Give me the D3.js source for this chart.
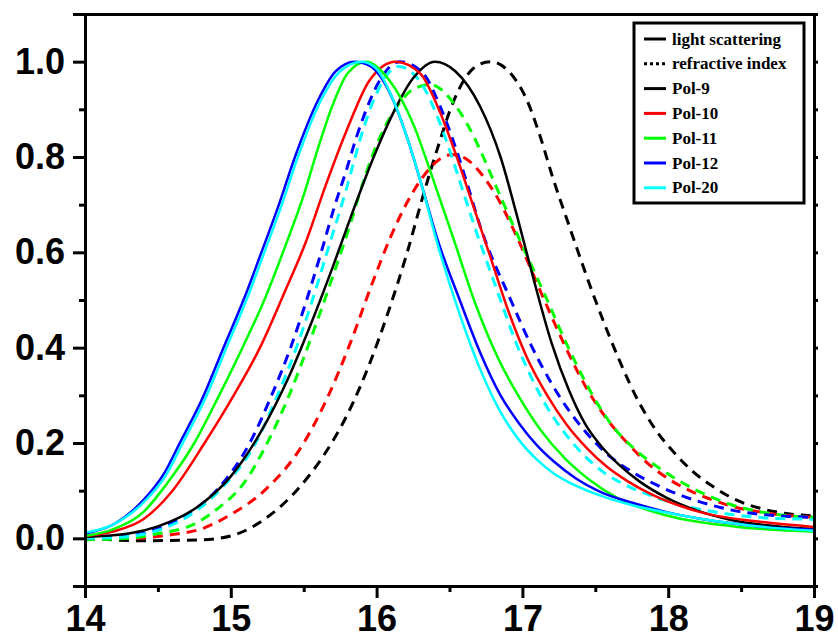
<!DOCTYPE html>
<html>
<head>
<meta charset="utf-8">
<script src="https://cdn.jsdelivr.net/npm/d3@7"></script>
<style>
  body { margin: 0; background: #fff; }
  svg { display: block; }
</style>
</head>
<body>
<svg id="chart"></svg>
<script>
// elution volume vs normalised detector signal
const xTicks = [14, 15, 16, 17, 18, 19];
const yTicks = [0.0, 0.2, 0.4, 0.6, 0.8, 1.0];

const samples = ['Pol-9', 'Pol-10', 'Pol-11', 'Pol-12', 'Pol-20'];
const colors = ['#000000', '#ff0000', '#00ff00', '#0000ff', '#00ffff'];

// light scattering (solid)
const ls9 = [[14.0,0.003],[14.3,0.01],[14.5,0.025],[14.79,0.07],[15.0,0.13],[15.2,0.22],[15.4,0.34],[15.55,0.45],[15.7,0.57],[15.83,0.68],[15.98,0.8],[16.11,0.89],[16.25,0.965],[16.4,1.0],[16.54,0.98],[16.71,0.906],[16.85,0.8],[16.96,0.68],[17.08,0.54],[17.2,0.41],[17.32,0.31],[17.43,0.24],[17.55,0.19],[17.66,0.155],[17.8,0.12],[17.99,0.085],[18.22,0.056],[18.44,0.038],[18.79,0.024],[19.0,0.02]];
const ls10 = [[14.0,0.005],[14.2,0.015],[14.4,0.04],[14.6,0.1],[14.82,0.2],[15.02,0.3],[15.2,0.4],[15.36,0.51],[15.52,0.626],[15.65,0.74],[15.8,0.86],[15.95,0.96],[16.13,1.0],[16.3,0.975],[16.42,0.905],[16.55,0.8],[16.66,0.7],[16.77,0.6],[16.9,0.48],[17.03,0.38],[17.17,0.3],[17.3,0.24],[17.44,0.19],[17.58,0.15],[17.72,0.12],[17.9,0.09],[18.22,0.055],[18.68,0.033],[19.0,0.024]];
const ls11 = [[14.0,0.005],[14.2,0.02],[14.4,0.055],[14.55,0.11],[14.75,0.2],[14.92,0.3],[15.08,0.4],[15.23,0.5],[15.37,0.61],[15.5,0.72],[15.6,0.82],[15.7,0.91],[15.8,0.975],[15.93,1.0],[16.09,0.96],[16.25,0.87],[16.38,0.76],[16.53,0.626],[16.68,0.49],[16.83,0.38],[16.98,0.295],[17.13,0.225],[17.3,0.165],[17.45,0.125],[17.65,0.085],[17.99,0.048],[18.45,0.025],[19.0,0.014]];
const ls12 = [[14.0,0.01],[14.2,0.03],[14.4,0.08],[14.55,0.14],[14.65,0.2],[14.8,0.29],[14.95,0.4],[15.1,0.51],[15.21,0.6],[15.33,0.7],[15.44,0.8],[15.6,0.92],[15.72,0.98],[15.85,1.0],[15.96,0.99],[16.09,0.935],[16.21,0.84],[16.31,0.74],[16.42,0.625],[16.57,0.5],[16.71,0.39],[16.85,0.3],[16.98,0.24],[17.1,0.195],[17.22,0.16],[17.37,0.125],[17.53,0.098],[17.76,0.074],[17.99,0.055],[18.22,0.041],[18.45,0.031],[18.68,0.023],[19.0,0.018]];
const ls20 = [[14.0,0.012],[14.2,0.03],[14.4,0.075],[14.55,0.13],[14.67,0.2],[14.82,0.29],[14.97,0.4],[15.12,0.51],[15.23,0.6],[15.35,0.7],[15.46,0.8],[15.62,0.92],[15.75,0.98],[15.9,1.0],[16.0,0.985],[16.1,0.93],[16.21,0.84],[16.31,0.74],[16.42,0.615],[16.57,0.47],[16.71,0.355],[16.85,0.265],[16.98,0.205],[17.1,0.165],[17.22,0.135],[17.37,0.11],[17.53,0.09],[17.76,0.069],[17.99,0.054],[18.22,0.041],[18.45,0.031],[18.68,0.023],[19.0,0.016]];

// refractive index (dashed)
const ri9 = [[14.0,0.0],[14.4,-0.005],[14.8,-0.003],[15.0,0.005],[15.23,0.04],[15.45,0.1],[15.65,0.18],[15.8,0.26],[15.95,0.365],[16.08,0.475],[16.21,0.6],[16.32,0.72],[16.43,0.83],[16.5,0.895],[16.57,0.945],[16.68,0.99],[16.78,1.0],[16.92,0.975],[17.03,0.92],[17.12,0.845],[17.21,0.755],[17.31,0.665],[17.5,0.5],[17.67,0.37],[17.8,0.285],[17.92,0.225],[18.04,0.18],[18.17,0.14],[18.31,0.108],[18.47,0.08],[18.63,0.063],[18.81,0.052],[19.0,0.047]];
const ri10 = [[14.0,0.0],[14.3,0.0],[14.6,0.008],[14.8,0.02],[15.0,0.05],[15.23,0.1],[15.5,0.2],[15.67,0.3],[15.82,0.41],[15.97,0.535],[16.1,0.635],[16.21,0.705],[16.31,0.755],[16.43,0.795],[16.52,0.805],[16.62,0.795],[16.73,0.76],[16.83,0.714],[16.94,0.647],[17.15,0.5],[17.29,0.405],[17.44,0.315],[17.58,0.25],[17.72,0.2],[17.85,0.16],[18.01,0.123],[18.17,0.097],[18.31,0.08],[18.44,0.067],[18.68,0.053],[19.0,0.044]];
const ri11 = [[14.0,-0.003],[14.3,0.0],[14.5,0.01],[14.75,0.03],[14.9,0.06],[15.1,0.12],[15.25,0.2],[15.4,0.3],[15.55,0.42],[15.7,0.55],[15.82,0.66],[15.9,0.74],[15.98,0.81],[16.06,0.865],[16.15,0.91],[16.25,0.942],[16.37,0.952],[16.45,0.94],[16.53,0.912],[16.62,0.87],[16.71,0.815],[16.8,0.752],[16.92,0.668],[17.17,0.5],[17.3,0.41],[17.42,0.335],[17.52,0.28],[17.62,0.235],[17.76,0.19],[17.94,0.147],[18.1,0.116],[18.27,0.09],[18.44,0.07],[18.68,0.053],[19.0,0.044]];
const ri12 = [[14.0,0.0],[14.3,0.005],[14.5,0.02],[14.7,0.05],[14.9,0.1],[15.13,0.2],[15.28,0.3],[15.41,0.4],[15.52,0.5],[15.62,0.6],[15.71,0.695],[15.79,0.77],[15.86,0.84],[15.93,0.9],[16.02,0.96],[16.16,1.0],[16.32,0.975],[16.43,0.91],[16.53,0.83],[16.62,0.745],[16.71,0.655],[16.92,0.5],[17.06,0.405],[17.19,0.33],[17.31,0.272],[17.44,0.221],[17.6,0.172],[17.76,0.138],[17.92,0.112],[18.08,0.091],[18.27,0.072],[18.49,0.056],[18.72,0.048],[19.0,0.044]];
const ri20 = [[14.0,0.0],[14.3,0.004],[14.5,0.017],[14.7,0.045],[14.92,0.1],[15.17,0.2],[15.32,0.3],[15.45,0.4],[15.56,0.5],[15.66,0.6],[15.79,0.73],[15.91,0.86],[16.01,0.94],[16.15,0.99],[16.32,0.948],[16.41,0.89],[16.5,0.815],[16.58,0.74],[16.66,0.665],[16.85,0.5],[16.95,0.415],[17.05,0.345],[17.15,0.285],[17.28,0.225],[17.42,0.175],[17.55,0.14],[17.72,0.11],[17.88,0.09],[18.06,0.072],[18.27,0.058],[18.49,0.048],[18.72,0.042],[19.0,0.04]];

const lsSeries = [ls9, ls10, ls11, ls12, ls20];
const riSeries = [ri9, ri10, ri11, ri12, ri20];

const W = 838, H = 639;
const margin = {top: 14, right: 24, bottom: 53, left: 85};

const svg = d3.select('#chart')
  .attr('width', W)
  .attr('height', H);

const x = d3.scaleLinear()
  .domain([14, 19])
  .range([margin.left, W - margin.right]);

const y = d3.scaleLinear()
  .domain([-0.1, 1.1])
  .range([H - margin.bottom, margin.top]);

const line = d3.line()
  .x(d => x(d[0]))
  .y(d => y(d[1]))
  .curve(d3.curveMonotoneX);

// curves
const plot = svg.append('g');

riSeries.forEach((s, i) => {
  plot.append('path')
    .datum(s)
    .attr('d', line)
    .attr('fill', 'none')
    .attr('stroke', colors[i])
    .attr('stroke-width', 3)
    .attr('stroke-dasharray', '10,7');
});

lsSeries.forEach((s, i) => {
  plot.append('path')
    .datum(s)
    .attr('d', line)
    .attr('fill', 'none')
    .attr('stroke', colors[i])
    .attr('stroke-width', 2.5);
});

// axes
const tickFont = g => g.selectAll('text')
  .style('font-family', '"Liberation Sans", Arial, sans-serif')
  .style('font-weight', 'bold')
  .style('font-size', '36px')
  .attr('fill', '#000');

const xAxis = svg.append('g')
  .attr('transform', `translate(0,${y(-0.1)})`)
  .call(d3.axisBottom(x).tickValues(xTicks).tickFormat(d3.format('d')).tickSize(12).tickPadding(7));
xAxis.call(tickFont);

svg.append('g')
  .attr('transform', `translate(0,${y(-0.1)})`)
  .call(d3.axisBottom(x).tickValues(d3.range(14.5, 19, 1)).tickSize(6).tickFormat(''));

const yAxis = svg.append('g')
  .attr('transform', `translate(${x(14)},0)`)
  .call(d3.axisLeft(y).tickValues(yTicks).tickFormat(d3.format('.1f')).tickSize(12).tickPadding(8));
yAxis.call(tickFont);

svg.append('g')
  .attr('transform', `translate(${x(14)},0)`)
  .call(d3.axisLeft(y).tickValues([-0.1, 0.1, 0.3, 0.5, 0.7, 0.9, 1.1]).tickSize(6).tickFormat(''));

svg.append('g')
  .attr('transform', `translate(${x(19)},0)`)
  .call(d3.axisRight(y).tickValues(d3.range(0, 1.05, 0.1)).tickSize(4).tickFormat(''));

svg.append('g')
  .attr('transform', `translate(0,${y(1.1)})`)
  .call(d3.axisTop(x).tickValues([]).tickSizeOuter(0));

svg.selectAll('.domain')
  .attr('stroke', '#000')
  .attr('stroke-width', 3);
svg.selectAll('.tick line')
  .attr('stroke', '#000')
  .attr('stroke-width', 3);

// legend
const lg = svg.append('g');
lg.append('rect')
  .attr('x', 634).attr('y', 23)
  .attr('width', 170).attr('height', 180)
  .attr('fill', '#fff')
  .attr('stroke', '#000')
  .attr('stroke-width', 3);

const legendItems = [
  {label: 'light scattering', color: '#000', dash: null},
  {label: 'refractive index', color: '#000', dash: '3,3'}
].concat(samples.map((s, i) => ({label: s, color: colors[i], dash: null})));

legendItems.forEach((d, i) => {
  const cy = 39 + i * 24.8;
  lg.append('line')
    .attr('x1', 644).attr('x2', 666)
    .attr('y1', cy).attr('y2', cy)
    .attr('stroke', d.color)
    .attr('stroke-width', 3)
    .attr('stroke-dasharray', d.dash);
  lg.append('text')
    .attr('x', 672)
    .attr('y', cy + 5.5)
    .style('font-family', '"Liberation Serif", "Times New Roman", serif')
    .style('font-weight', 'bold')
    .style('font-size', '17px')
    .text(d.label);
});
</script>
</body>
</html>
